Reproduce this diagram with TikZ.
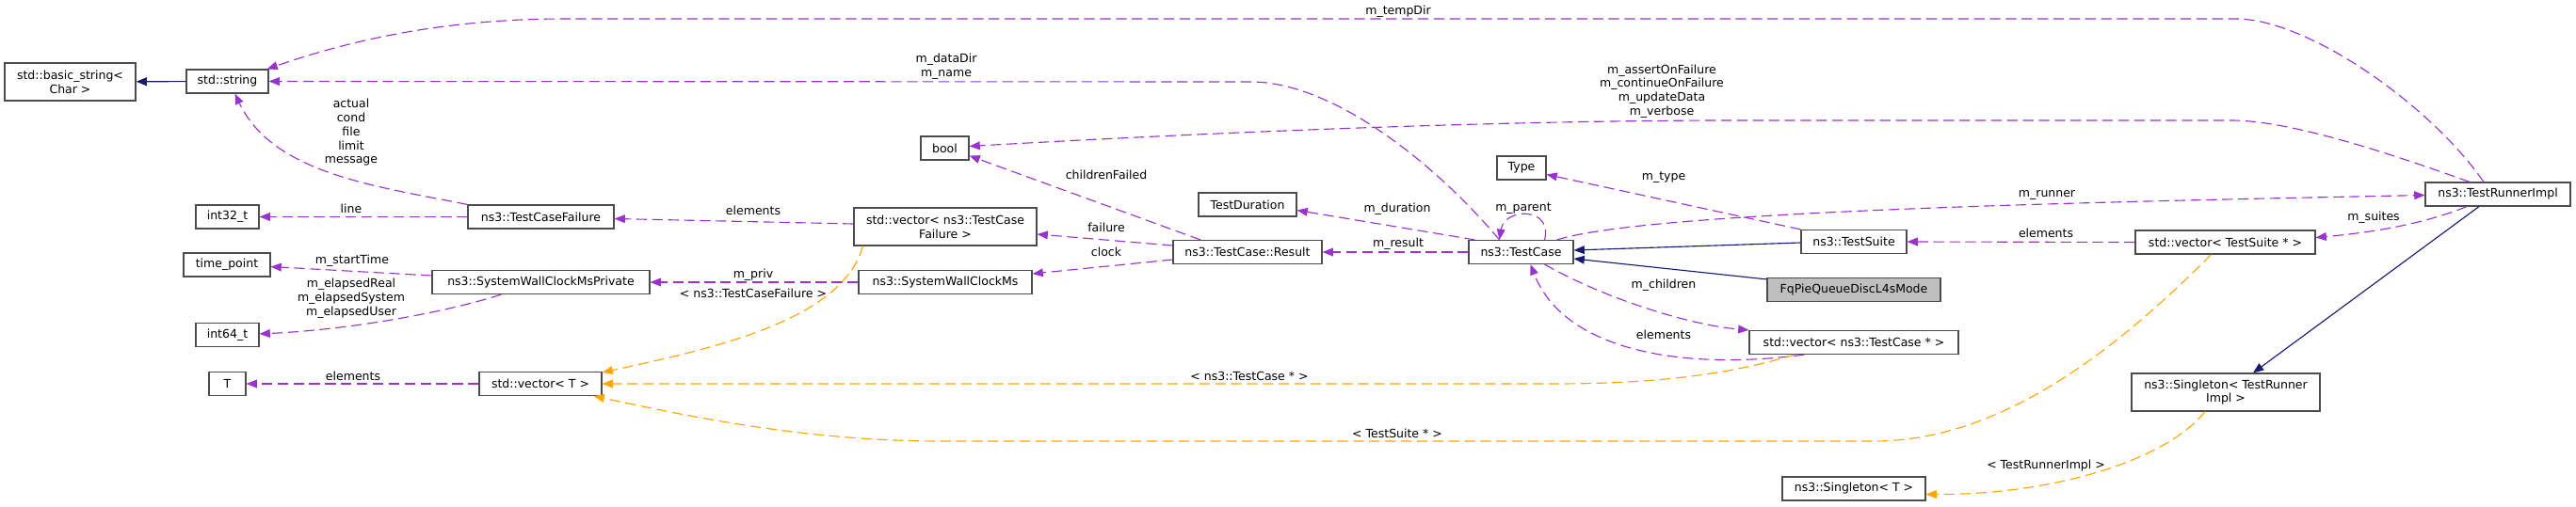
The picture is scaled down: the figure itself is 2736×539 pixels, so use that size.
\documentclass[tikz,border=0pt]{standalone}
\usepackage{fontspec}
\setmainfont{DejaVu Sans}
\usetikzlibrary{arrows.meta, calc}

\definecolor{memberc}{HTML}{9A32CD}
\definecolor{tmplc}{HTML}{FFA500}
\definecolor{inheritc}{HTML}{191970}

\begin{document}
\begin{tikzpicture}[x=0.8pt, y=-0.8pt,
    cls/.style={draw=black!70, fill=white, line width=0.9pt, minimum height=20pt, inner sep=1pt, align=center, font=\fontsize{10}{11.8}\selectfont},
    clstwo/.style={cls, minimum height=32pt},
    lbl/.style={inner sep=0pt, align=center, font=\fontsize{10}{11.8}\selectfont},
    member/.style={draw=memberc, line width=0.9pt, dash pattern=on 9pt off 4.5pt, -{Triangle[length=9pt, width=7pt]}},
    tmpl/.style={member, draw=tmplc},
    inherit/.style={draw=inheritc, line width=0.9pt, -{Triangle[length=9pt, width=7pt]}}]

    \useasboundingbox (0,0) rectangle (2736,539);

    % Klassen
    \node (basicstr) [clstwo, minimum width=111.2pt] at (74.5,87) {std::basic\_string<\\Char >};
    \node (stdstring) [cls, minimum width=69.6pt] at (241.5,86.5) {std::string};
    \node (int32) [cls, minimum width=53.6pt] at (241.5,230.5) {int32\_t};
    \node (timepoint) [cls, minimum width=73.6pt] at (241,281.5) {time\_point};
    \node (int64) [cls, minimum width=53.6pt] at (241.5,356) {int64\_t};
    \node (tparam) [cls, minimum width=31.2pt] at (241.5,408) {T};
    \node (tcfail) [cls, minimum width=124pt] at (574.5,230.5) {ns3::TestCaseFailure};
    \node (swcmpriv) [cls, minimum width=184.8pt] at (574.5,300) {ns3::SystemWallClockMsPrivate};
    \node (vect) [cls, minimum width=104pt] at (574,408) {std::vector< T >};
    \node (vectcf) [clstwo, minimum width=155.2pt] at (1004,241) {std::vector< ns3::TestCase\\Failure >};
    \node (boolnode) [cls, minimum width=40.8pt] at (1003.5,157.5) {bool};
    \node (swcm) [cls, minimum width=147.2pt] at (1004,300) {ns3::SystemWallClockMs};
    \node (duration) [cls, minimum width=83.2pt] at (1325,217.5) {TestDuration};
    \node (result) [cls, minimum width=126.4pt] at (1325,268) {ns3::TestCase::Result};
    \node (typenode) [cls, minimum width=41.6pt] at (1616,178.5) {Type};
    \node (testcase) [cls, minimum width=88.8pt] at (1615.5,268) {ns3::TestCase};
    \node (testsuite) [cls, minimum width=89.6pt] at (1969,257) {ns3::TestSuite};
    \node (fqpie) [cls, fill=black!25, minimum width=147.2pt] at (1969,308) {FqPieQueueDiscL4sMode};
    \node (vectc) [cls, minimum width=177.6pt] at (1969,364) {std::vector< ns3::TestCase * >};
    \node (vects) [cls, minimum width=152.8pt] at (2363.5,257.5) {std::vector< TestSuite * >};
    \node (runner) [cls, minimum width=123.2pt] at (2653,206.5) {ns3::TestRunnerImpl};
    \node (singtri) [clstwo, minimum width=160pt] at (2364,417) {ns3::Singleton< TestRunner\\Impl >};
    \node (singt) [cls, minimum width=121.6pt] at (1969,519.5) {ns3::Singleton< T >};

    % Vererbung
    \draw[inherit] (stdstring) -- (basicstr);
    \draw[inherit] ($(testsuite.west)+(0,1)$) -- ($(testcase.east)+(0,-2)$);
    \draw[inherit] ($(fqpie.north west)+(0,2)$) -- ($(testcase.east)+(0,7)$);
    \draw[inherit] ($(runner.south)+(-20,0)$) -- ($(singtri.north)+(29,0)$);

    % Attribute
    \draw[member] ($(runner.north)+(-15,0)$) .. controls (2580,110) and (2450,20) .. (2375,20) -- (600,20) .. controls (480,20) and (380,40) .. ($(stdstring.north east)+(-2,0)$);
    \draw[member] ($(testcase.north)+(-23,0)$) .. controls (1530,180) and (1420,88) .. (1330,87) -- (stdstring.east);
    \draw[member] (tcfail.north west) .. controls (400,198) and (290,185) .. ($(stdstring.south)+(8,0)$);
    \draw[member] (tcfail.west) -- (int32.east);
    \draw[member] ($(swcmpriv.west)+(0,-7)$) -- ($(timepoint.east)+(0,2)$);
    \draw[member] ($(swcmpriv.south west)+(74,0)$) .. controls (480,330) and (380,350) .. ($(int64.east)+(0,-1)$);
    \draw[member] (vect.west) -- (tparam.east);
    \draw[member] ($(vectcf.west)+(0,-3)$) -- ($(tcfail.east)+(0,2)$);
    \draw[member] (swcm.west) -- (swcmpriv.east);
    \draw[member] ($(result.north)+(-50,0)$) -- ($(boolnode.south east)+(0,-5)$);
    \draw[member] ($(result.west)+(0,-7)$) -- ($(vectcf.east)+(0,8)$);
    \draw[member] ($(result.west)+(0,8)$) -- ($(swcm.east)+(0,-9)$);
    \draw[member] (testcase.west) -- (result.east);
    \draw[member] ($(testcase.north west)+(7,0)$) -- ($(duration.east)+(0,6)$);
    \draw[member] ($(testcase.north)+(25,0)$) .. controls (1650,220) and (1598,220) .. ($(testcase.north)+(-23,0)$);
    \draw[member] ($(runner.north)+(-30,0)$) .. controls (2530,160) and (2430,128) .. (2370,128) -- (1840,128) .. controls (1600,128) and (1300,140) .. ($(boolnode.east)+(0,-2)$);
    \draw[member] (testsuite.north west) -- ($(typenode.east)+(0,7)$);
    \draw[member] ($(testcase.north east)+(-18,0)$) .. controls (1750,225) and (2200,215) .. ($(runner.west)+(0,1)$);
    \draw[member] ($(runner.south)+(-33,0)$) .. controls (2570,240) and (2510,248) .. ($(vects.east)+(0,-5)$);
    \draw[member] (vects.west) -- (testsuite.east);
    \draw[member] ($(testcase.south)+(25,0)$) .. controls (1700,315) and (1790,345) .. (vectc.north west);
    \draw[member] ($(vectc.south west)+(59,0)$) .. controls (1780,395) and (1660,370) .. ($(testcase.south)+(10,0)$);

    % Templates
    \draw[tmpl] ($(vectcf.south west)+(10,0)$) .. controls (895,340) and (760,370) .. ($(vect.north east)+(0,1)$);
    \draw[tmpl] ($(vectc.south west)+(49,0)$) .. controls (1830,400) and (1750,408) .. (1650,408) -- (vect.east);
    \draw[tmpl] ($(vects.south)+(-15,0)$) .. controls (2240,380) and (2120,469) .. (1990,469) -- (1000,469) .. controls (850,469) and (720,440) .. ($(vect.south east)+(-9,0)$);
    \draw[tmpl] ($(singtri.south)+(-22,0)$) .. controls (2300,490) and (2180,526) .. ($(singt.east)+(0,6)$);

    % Beschriftungen
    \node (labtempdir) [lbl] at (1485,12) {m\_tempDir};
    \node (labdatadir) [lbl] at (1005,71) {m\_dataDir\\m\_name};
    \node (labflags) [lbl] at (1765,97) {m\_assertOnFailure\\m\_continueOnFailure\\m\_updateData\\m\_verbose};
    \node (labstrings) [lbl] at (373,141) {actual\\cond\\file\\limit\\message};
    \node (labline) [lbl] at (373,222) {line};
    \node (labstart) [lbl] at (374,277) {m\_startTime};
    \node (labelapsed) [lbl] at (373,317) {m\_elapsedReal\\m\_elapsedSystem\\m\_elapsedUser};
    \node (labelemt) [lbl] at (375,400) {elements};
    \node (labelemtcf) [lbl] at (800,224) {elements};
    \node (labpriv) [lbl] at (800,292) {m\_priv};
    \node (labtcf) [lbl] at (800,312) {< ns3::TestCaseFailure >};
    \node (labchild) [lbl] at (1175,186) {childrenFailed};
    \node (labfailure) [lbl] at (1175,242) {failure};
    \node (labclock) [lbl] at (1175,268) {clock};
    \node (labduration) [lbl] at (1484,222) {m\_duration};
    \node (labresult) [lbl] at (1485,259) {m\_result};
    \node (labparent) [lbl] at (1618,222) {m\_parent};
    \node (labtype) [lbl] at (1767,189) {m\_type};
    \node (labrunner) [lbl] at (2174,207) {m\_runner};
    \node (labelemts) [lbl] at (2173,248) {elements};
    \node (labsuites) [lbl] at (2521,231) {m\_suites};
    \node (labchildren) [lbl] at (1767,303) {m\_children};
    \node (labelemtc) [lbl] at (1767,356) {elements};
    \node (labtcptr) [lbl] at (1327,400) {< ns3::TestCase * >};
    \node (labtsptr) [lbl] at (1484,461) {< TestSuite * >};
    \node (labtri) [lbl] at (2173,495) {< TestRunnerImpl >};
\end{tikzpicture}
\end{document}
